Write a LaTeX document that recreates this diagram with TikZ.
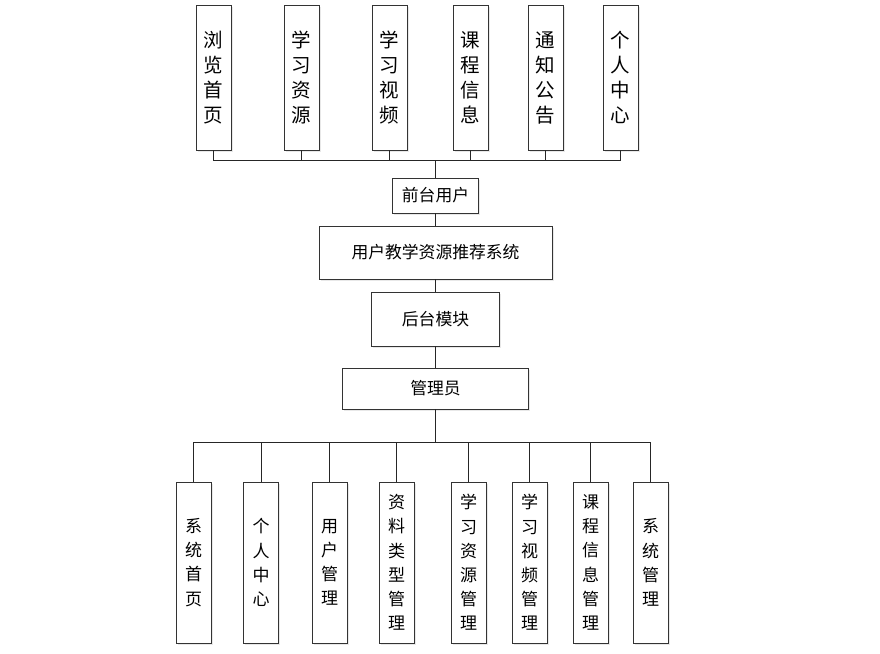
\documentclass[tikz,border=0pt]{standalone}
\usepackage{fontspec}
\newfontfamily\cjk{Noto Sans CJK SC}
\usetikzlibrary{shadows}
\begin{document}
\begin{tikzpicture}[x=1pt,y=-1pt,
  box/.style={draw=black!80, line width=0.8pt, fill=white, inner sep=0pt,
    drop shadow={shadow xshift=1.5pt, shadow yshift=-1.5pt, fill=black!15, opacity=0.6}},
  vbox/.style={box, minimum width=35pt, align=center,
    font=\cjk\fontsize{17}{24.2}\selectfont},
  tbox/.style={vbox, minimum height=145pt, font=\cjk\fontsize{19.5}{25}\selectfont},
  hbox/.style={box, font=\cjk\fontsize{16.8}{20}\selectfont},
  link/.style={draw=black!85, line width=0.9pt}]
\useasboundingbox (0,0) rectangle (880,653);
% top row
\node[tbox] (t1) at (213.5,77.5) {浏\\览\\首\\页};
\node[tbox] (t2) at (301.5,77.5) {学\\习\\资\\源};
\node[tbox] (t3) at (389.5,77.5) {学\\习\\视\\频};
\node[tbox] (t4) at (470.5,77.5) {课\\程\\信\\息};
\node[tbox] (t5) at (545.5,77.5) {通\\知\\公\\告};
\node[tbox] (t6) at (620.5,77.5) {个\\人\\中\\心};
% middle column
\node[hbox, minimum width=86pt, minimum height=35pt] (fu) at (435.5,195.5) {前台用户};
\node[hbox, minimum width=233pt, minimum height=53pt] (sys) at (435.5,252.5) {用户教学资源推荐系统};
\node[hbox, minimum width=128pt, minimum height=54pt] (bk) at (435.5,319) {后台模块};
\node[hbox, minimum width=186pt, minimum height=41pt] (adm) at (435.5,388.5) {管理员};
% bottom row
\node[vbox, minimum height=161pt] (b1) at (193.5,562.5) {系\\统\\首\\页};
\node[vbox, minimum height=161pt] (b2) at (261,562.5) {个\\人\\中\\心};
\node[vbox, minimum height=161pt] (b3) at (329.5,562.5) {用\\户\\管\\理};
\node[vbox, minimum height=161pt] (b4) at (396.5,562.5) {资\\料\\类\\型\\管\\理};
\node[vbox, minimum height=161pt] (b5) at (468.5,562.5) {学\\习\\资\\源\\管\\理};
\node[vbox, minimum height=161pt] (b6) at (529.5,562.5) {学\\习\\视\\频\\管\\理};
\node[vbox, minimum height=161pt] (b7) at (590.5,562.5) {课\\程\\信\\息\\管\\理};
\node[vbox, minimum height=161pt] (b8) at (650.5,562.5) {系\\统\\管\\理};
% buses
\coordinate (tbus) at (435.5,160);
\coordinate (bbus) at (435.5,442);
\path[link] (fu.north) -- (tbus);
\foreach \n in {t1,t2,t3,t4,t5,t6} \path[link] (\n.south) |- (tbus);
\path[link] (fu.south) -- (sys.north);
\path[link] (sys.south) -- (bk.north);
\path[link] (bk.south) -- (adm.north);
\path[link] (adm.south) -- (bbus);
\foreach \n in {b1,b2,b3,b4,b5,b6,b7,b8} \path[link] (bbus) -| (\n.north);
\end{tikzpicture}
\end{document}
